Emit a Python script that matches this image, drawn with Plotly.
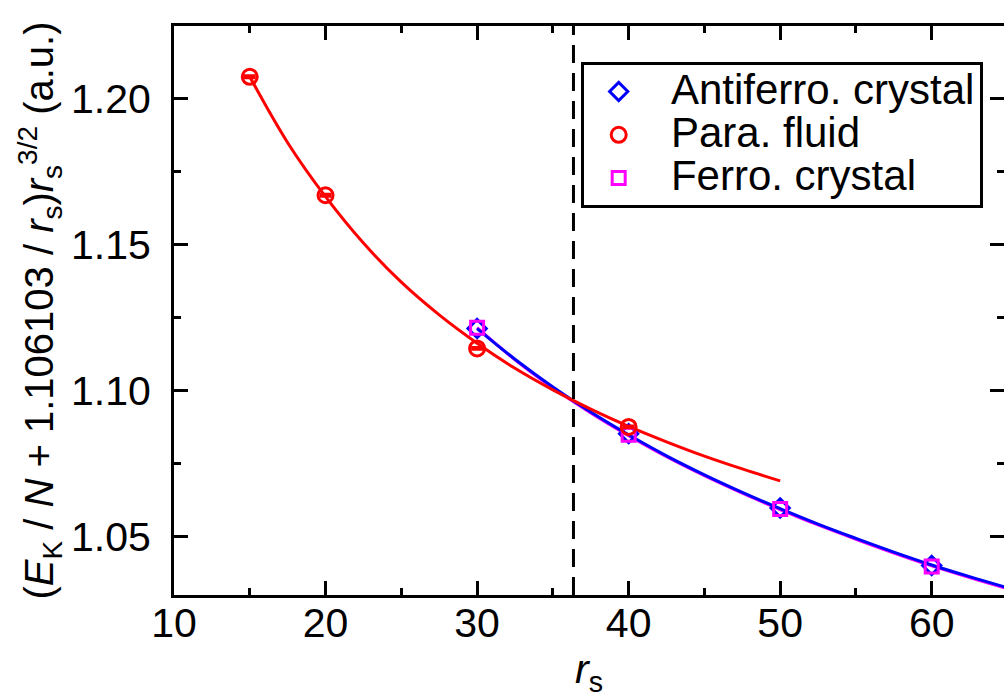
import plotly.graph_objects as go

# Measured points
rs_para = [15, 20, 30, 40]
ek_para = [1.2076, 1.1670, 1.1145, 1.0876]
err_para = [0.0004, 0.0004, 0.0004, 0.0004]

rs_af = [30, 40, 50, 60]
ek_af = [1.1213, 1.0853, 1.0598, 1.0401]

rs_f = [30, 40, 50, 60]
ek_f = [1.1216, 1.0849, 1.0595, 1.0398]

# Fitted curves, sampled
rs_fit_para = [15, 17.5, 20, 22.5, 25, 27.5, 30, 32.5, 35, 37.5, 40, 42.5, 45, 47.5, 50]
ek_fit_para = [1.2076, 1.1850, 1.1665, 1.1506, 1.1372, 1.1260, 1.1163, 1.1077,
               1.1003, 1.0937, 1.0878, 1.0825, 1.0776, 1.0732, 1.0691]

rs_fit_cr = [30, 32.5, 35, 37.5, 40, 42.5, 45, 47.5, 50, 52.5, 55, 57.5, 60, 62.5, 65]
ek_fit_af = [1.1213, 1.1108, 1.1013, 1.0927, 1.0849, 1.0777, 1.0712, 1.0652,
             1.0596, 1.0543, 1.0494, 1.0447, 1.0403, 1.0363, 1.0325]
ek_fit_f = [1.1216, 1.1106, 1.1010, 1.0924, 1.0846, 1.0774, 1.0709, 1.0649,
            1.0593, 1.0540, 1.0491, 1.0444, 1.0400, 1.0360, 1.0322]

rs_transition = 36.36

x_ticks = [10, 20, 30, 40, 50, 60]
y_ticks = [1.05, 1.10, 1.15, 1.20]

FONT = "Liberation Sans, Arial, Helvetica, sans-serif"
BLUE = "#0000ff"
RED = "#ff0000"
MAGENTA = "#ff00ff"


def legend_label(text):
    # large glyphs on a compact legend row
    return f'&nbsp;&nbsp;<span style="font-size:42px">{text}</span>'


fig = go.Figure()

# fit curves
fig.add_trace(go.Scatter(x=rs_fit_cr, y=ek_fit_f, mode="lines", line=dict(color=MAGENTA, width=3, shape="spline"),
                         showlegend=False, hoverinfo="skip"))
fig.add_trace(go.Scatter(x=rs_fit_cr, y=ek_fit_af, mode="lines", line=dict(color=BLUE, width=3, shape="spline"),
                         showlegend=False, hoverinfo="skip"))
fig.add_trace(go.Scatter(x=rs_fit_para, y=ek_fit_para, mode="lines", line=dict(color=RED, width=3, shape="spline"),
                         showlegend=False, hoverinfo="skip"))

# symbols
fig.add_trace(go.Scatter(x=rs_af, y=ek_af, mode="markers", name=legend_label("Antiferro. crystal"), legendrank=1,
                         marker=dict(symbol="diamond-open", size=14, color=BLUE, line=dict(width=3, color=BLUE))))
fig.add_trace(go.Scatter(x=rs_f, y=ek_f, mode="markers", name=legend_label("Ferro. crystal"), legendrank=3,
                         marker=dict(symbol="square-open", size=13, color=MAGENTA, line=dict(width=3, color=MAGENTA))))
fig.add_trace(go.Scatter(x=rs_para, y=ek_para, mode="markers", name=legend_label("Para. fluid"), legendrank=2,
                         error_y=dict(type="data", array=err_para, color=RED, thickness=2.5, width=6),
                         marker=dict(symbol="circle-open", size=15, color=RED, line=dict(width=3, color=RED))))

fig.add_vline(x=rs_transition, line=dict(color="black", width=3, dash="18px,10px"))

axis_common = dict(
    showline=True, linecolor="black", linewidth=3, mirror="ticks",
    ticks="inside", ticklen=14, tickwidth=3, tickcolor="black",
    showgrid=False, zeroline=False, automargin=False,
    tickfont=dict(family=FONT, size=41, color="black"),
)

fig.update_xaxes(
    range=[10, 64.77], tickvals=x_ticks, ticklabelstandoff=-10,
    minor=dict(ticks="inside", ticklen=7, tickwidth=3, tickcolor="black", dtick=5, tick0=10, showgrid=False),
    title=dict(text="<i>r</i><sub>s</sub>", font=dict(family=FONT, size=41, color="black"), standoff=31),
    **axis_common,
)
fig.update_yaxes(
    range=[1.03, 1.225], tickvals=y_ticks, tickformat=".2f", ticklabelstandoff=12,
    minor=dict(ticks="inside", ticklen=7, tickwidth=3, tickcolor="black", dtick=0.025, tick0=1.0, showgrid=False),
    title=dict(text="(<i>E</i><sub>K</sub> / <i>N</i> + 1.106103 / <i>r</i><sub>s</sub>)<i>r</i><sub>s</sub><sup>3/2</sup> (a.u.)",
               font=dict(family=FONT, size=40, color="black"), standoff=5),
    **axis_common,
)

fig.update_layout(
    width=1004, height=698,
    margin=dict(l=174, r=0, t=26, b=103),
    plot_bgcolor="white", paper_bgcolor="white",
    font=dict(family=FONT, color="black"),
    legend=dict(
        x=0.49, y=0.937, xanchor="left", yanchor="top",
        bgcolor="white", bordercolor="black", borderwidth=3,
        font=dict(family=FONT, size=31, color="black"),
        tracegroupgap=0, itemwidth=60,
    ),
)

fig.write_html("out.html")
